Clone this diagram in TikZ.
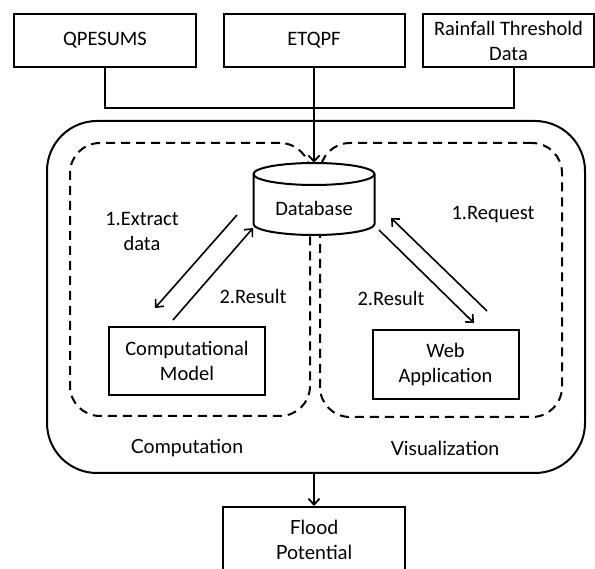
\documentclass[tikz,border=0pt]{standalone}
\usepackage{fontspec}
\setmainfont{Carlito}
\newfontfamily\gillfont{Lato}
\usetikzlibrary{arrows.meta}
\begin{document}
\begin{tikzpicture}[x=1pt,y=-1pt,
  every node/.style={font=\fontsize{20.5}{25}\selectfont},
  srcbox/.style={draw,line width=2pt,minimum height=53pt,inner sep=0pt,align=center},
  procbox/.style={draw,line width=2pt,inner sep=0pt,align=center},
  outerbox/.style={draw,line width=2pt,rounded corners=50pt,inner sep=0pt},
  dashbox/.style={draw,line width=2pt,dash pattern=on 9pt off 6pt,rounded corners=30pt,inner sep=0pt},
  conn/.style={line width=2pt},
  arr/.style={line width=1.6pt,-{Straight Barb[length=6pt,width=11pt,line width=1.6pt]}},
  varr/.style={line width=2pt,-{Straight Barb[length=6pt,width=11pt,line width=1.8pt]}},
  lbl/.style={inner sep=0pt,align=center},
  glbl/.style={inner sep=0pt,align=center,font=\gillfont\fontsize{19.5}{25}\selectfont}
]
\useasboundingbox (0,0) rectangle (595,569);
\clip (0,0) rectangle (595,569);
\fill[white] (0,0) rectangle (595,569);

% top source boxes
\node[srcbox,minimum width=182pt] (q) at (105,40.5) {QPESUMS};
\node[srcbox,minimum width=181pt] (e) at (314,40.5) {ETQPF};
\node[srcbox,minimum width=171pt] (r) at (508.5,40.5) {Rainfall Threshold\\Data};

% outer container and dashed groups
\node[outerbox,minimum width=538pt,minimum height=352pt] (outer) at (316,297) {};
\node[dashbox,minimum width=240pt,minimum height=273pt] (left) at (190,279.5) {};
\node[dashbox,minimum width=242pt,minimum height=274pt] (right) at (441,280) {};

% connectors from sources
\coordinate (qd) at (q.south);
\coordinate (rd) at ([xshift=5.5pt]r.south);
\draw[conn] (qd) -- (qd |- 0,108) -- (rd |- 0,108) -- (rd);

% database
\node[minimum width=121pt,minimum height=72pt,inner sep=0pt] (db) at (314,199) {};
\draw[line width=2pt,fill=white] (253.5,174) -- (253.5,224) arc (180:0:60.5 and 11) -- (374.5,174) arc (0:-180:60.5 and 11) -- cycle;
\draw[line width=2pt] (253.5,174) arc (180:0:60.5 and 11);
\node[lbl] (dbt) at (314,208) {Database};

\draw[varr] (e.south) -- (db.north);

% process boxes
\node[procbox,minimum width=156pt,minimum height=68pt] (comp) at (187,361) {Computational\\Model};
\node[procbox,minimum width=146pt,minimum height=69pt] (web) at (445.5,364.5) {Web\\Application};
\node[procbox,minimum width=182pt,minimum height=68pt,anchor=north] (flood) at (314,506) {};
\node[glbl] (floodt) at (314,540) {Flood\\Potential};

% arrows
\coordinate (ex1) at (237,215); \coordinate (ex2) at (155,308);
\coordinate (rs1) at (173,320); \coordinate (rs2) at (253,228);
\coordinate (rq1) at (487,311); \coordinate (rq2) at (391,218);
\coordinate (rr1) at (379,230); \coordinate (rr2) at (474,323);
\draw[arr] (ex1) -- (ex2);
\draw[arr] (rs1) -- (rs2);
\draw[arr] (rq1) -- (rq2);
\draw[arr] (rr1) -- (rr2);

\draw[varr] (outer.south -| flood.north) -- (flood.north);

% labels
\node[lbl] (l1) at (142,231) {1.Extract\\data};
\node[lbl] (l2) at (253,296) {2.Result};
\node[lbl] (l3) at (493,215) {1.Request};
\node[lbl] (l4) at (391,298) {2.Result};
\node[glbl] (l5) at (187,448) {Computation};
\node[glbl] (l6) at (445,448) {Visualization};
\end{tikzpicture}
\end{document}
